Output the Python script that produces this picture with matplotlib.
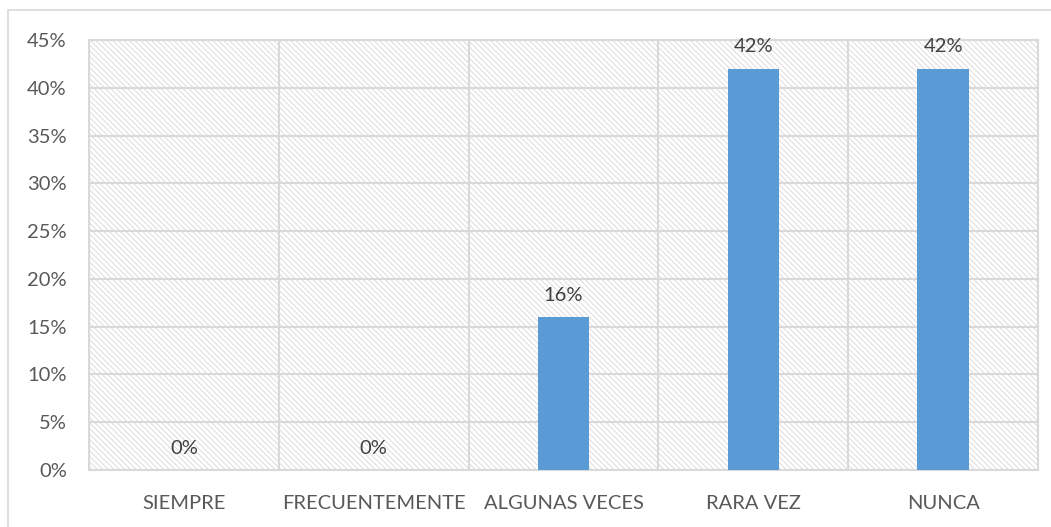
import matplotlib
matplotlib.use("Agg")
import matplotlib.pyplot as plt
from matplotlib.patches import Rectangle
import numpy as np

categories = ["SIEMPRE", "FRECUENTEMENTE", "ALGUNAS VECES", "RARA VEZ", "NUNCA"]
values = [0, 0, 16, 42, 42]
value_labels = ["0%", "0%", "16%", "42%", "42%"]
yticks = [0, 5, 10, 15, 20, 25, 30, 35, 40, 45]

plt.rcParams['font.family'] = ['Lato', 'DejaVu Sans']
plt.rcParams['hatch.color'] = '#dcdcdc'
plt.rcParams['hatch.linewidth'] = 0.7

W, H = 1051, 527
fig = plt.figure(figsize=(W/100, H/100), dpi=100)
# outer frame
fig.patches.append(Rectangle((8/W, -0.1), 1.2, (H-10)/H + 0.1, transform=fig.transFigure,
                             fill=False, edgecolor='#d9d9d9', linewidth=1.2))

left, right, top, bottom = 89, 1038, 40, 470
ax = fig.add_axes([left/W, 1 - bottom/H, (right-left)/W, (bottom-top)/H])
ax.set_facecolor('white')
bg = Rectangle((0, 0), 1, 1, transform=ax.transAxes, facecolor='white',
               hatch='\\\\\\\\\\\\', edgecolor='#dcdcdc', linewidth=0, zorder=0)
ax.add_patch(bg)

x = np.arange(len(categories))
ax.bar(x, values, width=0.27, color='#5b9bd5', zorder=3)
for xi, v, lab in zip(x, values, value_labels):
    ax.text(xi, v + 1.4, lab, ha='center', va='bottom', fontsize=14.5, color='#404040', zorder=4)

ax.set_xlim(-0.5, len(categories) - 0.5)
ax.set_ylim(0, 45)
ax.set_yticks(yticks)
ax.set_yticklabels([f"{t}%" for t in yticks])
ax.set_xticks(x)
ax.set_xticklabels(categories)
ax.set_xticks(np.arange(len(categories) + 1) - 0.5, minor=True)
ax.tick_params(axis='both', which='both', length=0, labelsize=14.5, labelcolor='#595959')
ax.tick_params(axis='x', pad=18)
ax.tick_params(axis='y', pad=16)
ax.grid(axis='y', which='major', color='#d9d9d9', linewidth=1.5, zorder=1)
ax.grid(axis='x', which='minor', color='#d9d9d9', linewidth=1.5, zorder=1)
ax.grid(axis='x', which='major', visible=False)
ax.set_axisbelow(True)
for s in ax.spines.values():
    s.set_color('#d9d9d9')
    s.set_linewidth(1.5)

fig.savefig("out.png", dpi=100)
